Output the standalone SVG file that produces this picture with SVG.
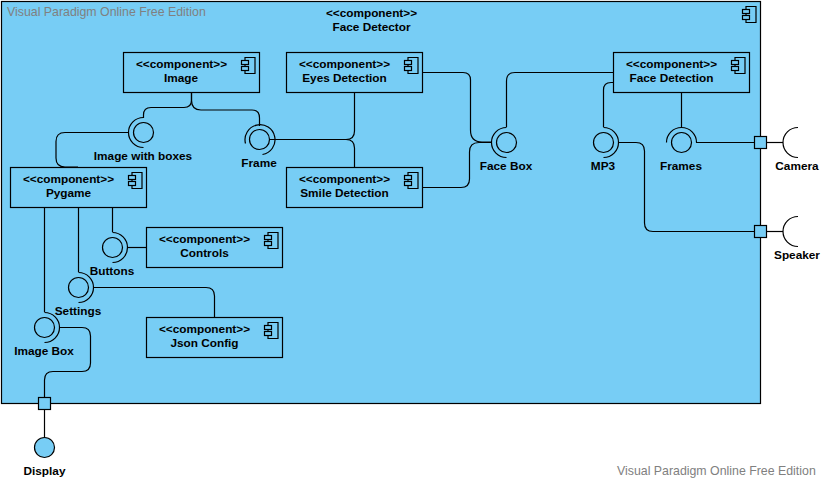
<svg xmlns="http://www.w3.org/2000/svg" width="822" height="480" viewBox="0 0 822 480">
<style>
.b{fill:#77cdf5;stroke:#000;stroke-width:1.2}
.l{fill:none;stroke:#000;stroke-width:1.2}
.c{fill:#77cdf5;stroke:#000;stroke-width:1.2}
text{font-family:"Liberation Sans",Arial,sans-serif;font-size:11.8px;font-weight:bold;fill:#000;text-anchor:middle}
.w{font-size:12.35px;font-weight:normal;fill:#808080;text-anchor:start}
</style>
<defs>
<g id="ic"><path class="b" d="M3.500 0H13.500V16H3.500Z"/><rect class="b" x="0" y="3" width="7" height="4"/><rect class="b" x="0" y="9" width="7" height="4"/></g>
</defs>
<g id="face-detector">
<rect class="b" x="1.500" y="1.500" width="759" height="402"/>
<use href="#ic" x="742.500" y="6.500"/>
<text x="371.500" y="17">&lt;&lt;component&gt;&gt;</text>
<text x="371.500" y="31">Face Detector</text>
</g>
<g id="connectors">
<path class="l" d="M191.500 93V100Q191.500 107.500 184 107.500H151Q143.500 107.500 143.500 115V118"/>
<path class="l" d="M191.500 93V100Q191.500 110 201 110H252Q259.500 110 259.500 118V126"/>
<path class="l" d="M128 132.500H65Q56 132.500 56 141.500V158Q56 167 65 167H78"/>
<path class="l" d="M270 139.500H346Q354.500 139.500 354.500 131V93"/>
<path class="l" d="M270 139.500H346Q354.500 139.500 354.500 148V167"/>
<path class="l" d="M423 72.500H463Q470.500 72.500 470.500 80V130Q470.500 142 482 142H491"/>
<path class="l" d="M423 187.500H461Q469.500 187.500 469.500 179V152Q469.500 142.500 479 142.500H491"/>
<path class="l" d="M613.500 72.500H515Q506.500 72.500 506.500 81V127"/>
<path class="l" d="M613.500 82.500H611Q603.500 82.500 603.500 90V127"/>
<path class="l" d="M681.500 92.500V127"/>
<path class="l" d="M112.500 207.500V232"/>
<path class="l" d="M128 247.500H146.500"/>
<path class="l" d="M78.500 207.500V272"/>
<path class="l" d="M94 287.500H206Q214.500 287.500 214.500 296V317.500"/>
<path class="l" d="M44.500 207.500V312"/>
<path class="l" d="M60 327.500H82Q90.500 327.500 90.500 336V363Q90.500 371.500 82 371.500H53Q44.500 371.500 44.500 380V397"/>
<path class="l" d="M44.500 409V437"/>
<path class="l" d="M696 142.500H754"/>
<path class="l" d="M619 142.500H636Q644.500 142.500 644.500 151V223Q644.500 231.500 653 231.500H754"/>
<path class="l" d="M766 142.500H783"/>
<path class="l" d="M766 231.500H783"/>
</g>
<g id="image"><rect class="b" x="123.500" y="52.500" width="136" height="40"/><use href="#ic" x="241.500" y="57.500"/><text x="181.500" y="68">&lt;&lt;component&gt;&gt;</text><text x="181" y="82">Image</text></g>
<g id="pygame"><rect class="b" x="10.500" y="167.500" width="136" height="40"/><use href="#ic" x="128.500" y="172.500"/><text x="68.500" y="183">&lt;&lt;component&gt;&gt;</text><text x="68.500" y="197">Pygame</text></g>
<g id="controls"><rect class="b" x="146.500" y="227.500" width="136" height="40"/><use href="#ic" x="264.500" y="232.500"/><text x="204.500" y="243">&lt;&lt;component&gt;&gt;</text><text x="204.500" y="257">Controls</text></g>
<g id="json-config"><rect class="b" x="146.500" y="317.500" width="136" height="40"/><use href="#ic" x="264.500" y="322.500"/><text x="204.500" y="333">&lt;&lt;component&gt;&gt;</text><text x="204.500" y="347">Json Config</text></g>
<g id="eyes-detection"><rect class="b" x="286.500" y="52.500" width="136" height="40"/><use href="#ic" x="404.500" y="57.500"/><text x="344.500" y="68">&lt;&lt;component&gt;&gt;</text><text x="344.500" y="82">Eyes Detection</text></g>
<g id="smile-detection"><rect class="b" x="286.500" y="167.500" width="136" height="40"/><use href="#ic" x="404.500" y="172.500"/><text x="344.500" y="183">&lt;&lt;component&gt;&gt;</text><text x="344.500" y="197">Smile Detection</text></g>
<g id="face-detection"><rect class="b" x="613.500" y="52.500" width="136" height="40"/><use href="#ic" x="731.500" y="57.500"/><text x="671.500" y="68">&lt;&lt;component&gt;&gt;</text><text x="671.500" y="82">Face Detection</text></g>
<g id="image-with-boxes"><circle class="c" cx="143.500" cy="132.500" r="10"/><path class="l" d="M143.500 117.500A15 15 0 0 0 143.500 147.500"/><text x="143" y="160">Image with boxes</text></g>
<g id="frame"><circle class="c" cx="259.500" cy="139.500" r="10"/><path class="l" d="M245.500 143.500A15 15 0 1 1 262.500 154.500"/><text x="259" y="167">Frame</text></g>
<g id="buttons"><circle class="c" cx="112.500" cy="247.500" r="10"/><path class="l" d="M112.500 232.500A15 15 0 0 1 112.500 262.500"/><text x="112" y="275">Buttons</text></g>
<g id="settings"><circle class="c" cx="78.500" cy="287.500" r="10"/><path class="l" d="M78.500 272.500A15 15 0 0 1 78.500 302.500"/><text x="78" y="315">Settings</text></g>
<g id="image-box"><circle class="c" cx="44.500" cy="327.500" r="10"/><path class="l" d="M44.500 312.500A15 15 0 0 1 44.500 342.500"/><text x="44" y="355">Image Box</text></g>
<g id="face-box"><circle class="c" cx="506.500" cy="142.500" r="10"/><path class="l" d="M506.500 127.500A15 15 0 0 0 506.500 157.500"/><text x="506" y="170">Face Box</text></g>
<g id="mp3"><circle class="c" cx="603.500" cy="142.500" r="10"/><path class="l" d="M603.500 127.500A15 15 0 0 1 603.500 157.500"/><text x="603" y="170">MP3</text></g>
<g id="frames"><circle class="c" cx="681.500" cy="142.500" r="10"/><path class="l" d="M666.500 142.500A15 15 0 0 1 696.500 142.500"/><text x="681" y="170">Frames</text></g>
<g id="display"><rect class="b" x="38.500" y="397.500" width="12" height="12"/><circle class="c" cx="44.500" cy="447.500" r="10"/><text x="44.500" y="475">Display</text></g>
<g id="camera"><rect class="b" x="754.500" y="136.500" width="12" height="12"/><path class="l" d="M798 127.500A15 15 0 0 0 798 157.500"/><text x="797" y="170">Camera</text></g>
<g id="speaker"><rect class="b" x="754.500" y="225.500" width="12" height="12"/><path class="l" d="M798 216.500A15 15 0 0 0 798 246.500"/><text x="797" y="259">Speaker</text></g>
<text class="w" x="7" y="16">Visual Paradigm Online Free Edition</text>
<text class="w" x="617" y="475">Visual Paradigm Online Free Edition</text>
</svg>
